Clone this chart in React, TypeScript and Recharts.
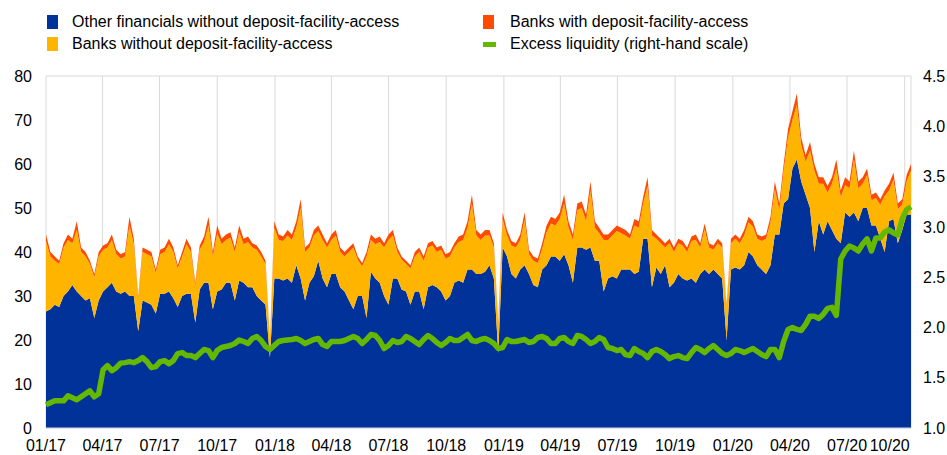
import React from "react";
import { ComposedChart, Area, Line, XAxis, YAxis, CartesianGrid } from "recharts";

// weekly readings, first week of Jan 2017 to mid Oct 2020 (EUR bn / EUR tn)
const otherFinancials = [
  26.5, 27, 28, 27.5, 30, 31, 32.5, 31, 30, 29,
  29.5, 25, 29, 31, 32, 33, 31, 30.5, 31, 30,
  30, 22, 29, 28.5, 28, 26, 30.5, 30.5, 31, 29.5,
  27.5, 30, 30.5, 30.5, 24, 31.5, 33, 33, 27, 31,
  31.5, 33, 33, 29, 33.5, 33, 32, 32, 30, 29,
  28, 16, 34, 34, 33.5, 34, 33, 37, 34, 29,
  33, 34.5, 38, 34, 32, 35, 35, 32, 31, 29,
  27, 30, 30, 25, 35.5, 34, 33, 30, 28, 34,
  34, 31.5, 31, 28, 31, 31, 27, 32, 32.5, 32,
  31, 29, 30, 33, 33.5, 33, 36, 36, 35, 35,
  35.5, 37, 34, 17, 41, 39, 35, 34, 36, 37,
  35, 32.5, 32, 36, 37, 39, 39, 38, 39.5, 37,
  33, 41, 41, 40.5, 41, 38, 38, 31, 34, 34.5,
  34, 36, 36, 36, 35, 35.5, 43, 43, 32, 36.5,
  35, 37, 32, 33, 35, 34, 33.5, 34, 33, 35,
  36, 35, 36, 35, 34, 20, 36, 36.5, 36, 37,
  40, 39, 37, 36, 35, 37, 44, 44, 51, 52,
  59, 61, 56, 53, 50, 40, 47, 44, 47, 45,
  43, 42, 49, 48, 49, 47, 50, 50, 46, 46,
  43, 40, 47, 47.5, 42, 45, 48.5, 48.5,
];

const banksWithout = [
  16, 12, 10, 9.75, 11, 11.75, 9.5, 14, 10, 10,
  7.75, 9.25, 10, 9.5, 9, 9.75, 8.5, 8, 8, 16,
  11.75, 7.5, 11, 11, 11, 9.25, 9, 9.5, 10.75, 10.5,
  8.75, 9, 11.25, 9.5, 8.25, 9, 9.25, 13, 12, 13.25,
  10.25, 9.75, 10.25, 11, 11, 8.75, 10.25, 9, 10.5, 10,
  9.25, 3.75, 11.5, 8.75, 9, 9.75, 9.75, 8.5, 16, 11,
  8, 9.25, 6.75, 8.75, 9, 7.75, 8.75, 8, 8, 11,
  14, 8.25, 6.75, 14, 7.25, 7.75, 9.25, 11, 14.75, 9.75,
  6, 6.75, 6.25, 8.25, 8, 9, 11, 9, 9, 8,
  9.5, 9.5, 9, 8, 8.75, 9.75, 9.5, 15, 8.75, 7.75,
  8.25, 6.75, 7, 6.5, 6.5, 4.75, 6.5, 7, 6.75, 10.25,
  4.5, 5.5, 5.5, 4.75, 7.5, 7.5, 7, 9.5, 11.5, 8.5,
  9.75, 8.5, 9, 6.5, 13, 7.5, 6.25, 11.75, 8.75, 9.25,
  10.75, 8.25, 7.75, 7, 11, 10, 8, 12, 11.75, 6.5,
  7, 4, 10, 7, 7, 7.5, 6.5, 8.5, 9.75, 6,
  9.25, 6, 4.5, 7, 7, 7.5, 6, 6.5, 6, 6.75,
  6.75, 6.75, 6, 6.5, 8, 9.75, 10.25, 5.5, 7.5, 14,
  11, 12.5, 8.25, 7.5, 13, 18.5, 8.5, 11.5, 6.5, 10.5,
  16, 10.5, 6.25, 6.5, 12, 7.5, 5.5, 7.5, 5.75, 6.25,
  7.75, 12.75, 7, 9, 7.75, 5.75, 7.5, 10,
];

const banksWith = [
  1.5, 1, 1, 0.75, 1, 1.25, 1, 2, 1, 1,
  0.75, 0.75, 1, 1, 1, 1.25, 1, 1, 1, 2,
  1.25, 0.5, 1, 1, 1, 0.75, 1, 1, 1.25, 1,
  0.75, 1, 1.25, 1, 0.75, 1, 1.25, 2, 1, 1.75,
  1.25, 1.25, 1.25, 1, 1.5, 1.25, 1.25, 1, 1, 1,
  0.75, 0.25, 1.5, 1.25, 1, 1.25, 1.25, 1.5, 2, 1,
  1, 1.25, 1.25, 1.25, 1, 1.25, 1.25, 1, 1, 1,
  1, 0.75, 0.75, 1, 1.25, 1.25, 1.25, 1, 1.25, 1.25,
  1, 0.75, 0.75, 0.75, 1, 1, 1, 1, 1, 1,
  1, 1, 1, 1, 1.25, 1.25, 1.5, 2, 1.25, 1.25,
  1.25, 1.25, 1, 0.5, 1.5, 1.25, 1, 1, 1.25, 1.75,
  1, 1, 1, 1.25, 1.5, 1.5, 1.5, 1.5, 2, 1.5,
  1.25, 1.5, 1.5, 1.5, 2, 1.5, 1.25, 1.25, 1.25, 1.25,
  1.25, 1.25, 1.25, 1, 1.5, 1.5, 1.5, 2, 1.25, 1,
  1, 1, 1, 1, 1, 1, 1, 1, 1.25, 1,
  1.25, 1, 1, 1, 1, 0.5, 1, 1, 1, 1.25,
  1.25, 1.25, 1, 1, 1, 1.25, 1.75, 1.5, 1.5, 2,
  2, 2.5, 1.75, 1.5, 2, 1.5, 1.5, 1.5, 1.5, 1.5,
  2, 1.5, 1.75, 1.5, 2, 1.5, 1.5, 1.5, 1.25, 1.25,
  1.25, 1.25, 1.5, 1.5, 1.25, 1.25, 1.5, 1.5,
];

const excessLiquidity = [
  1.23, 1.25, 1.27, 1.27, 1.27, 1.32, 1.3, 1.28, 1.31, 1.34,
  1.37, 1.31, 1.34, 1.58, 1.62, 1.57, 1.6, 1.645, 1.65, 1.66,
  1.65, 1.67, 1.7, 1.66, 1.6, 1.61, 1.66, 1.67, 1.64, 1.67,
  1.74, 1.75, 1.72, 1.72, 1.7, 1.74, 1.78, 1.77, 1.7, 1.77,
  1.8, 1.81, 1.82, 1.84, 1.875, 1.86, 1.84, 1.89, 1.91, 1.87,
  1.81, 1.78, 1.82, 1.86, 1.87, 1.875, 1.88, 1.89, 1.87, 1.84,
  1.86, 1.88, 1.89, 1.83, 1.81, 1.86, 1.86, 1.86, 1.87, 1.89,
  1.91, 1.89, 1.84, 1.88, 1.93, 1.92, 1.87, 1.79, 1.82, 1.87,
  1.85, 1.86, 1.91, 1.89, 1.86, 1.83, 1.88, 1.92, 1.89, 1.85,
  1.82, 1.85, 1.89, 1.87, 1.87, 1.9, 1.93, 1.87, 1.86, 1.88,
  1.89, 1.87, 1.84, 1.79, 1.8, 1.88, 1.86, 1.86, 1.87, 1.88,
  1.85, 1.86, 1.9, 1.91, 1.89, 1.84, 1.84, 1.89, 1.9, 1.86,
  1.84, 1.92, 1.91, 1.88, 1.84, 1.86, 1.9, 1.88, 1.8, 1.79,
  1.77, 1.78, 1.73, 1.72, 1.79, 1.76, 1.74, 1.7, 1.76, 1.78,
  1.76, 1.73, 1.69, 1.71, 1.72, 1.7, 1.69, 1.75, 1.8, 1.78,
  1.75, 1.79, 1.82, 1.78, 1.74, 1.72, 1.74, 1.78, 1.77, 1.75,
  1.77, 1.79, 1.76, 1.73, 1.71, 1.78, 1.78, 1.7, 1.86, 1.98,
  2.0, 1.98, 1.97, 2.03, 2.11, 2.11, 2.09, 2.13, 2.19, 2.2,
  2.12, 2.68, 2.76, 2.81, 2.79, 2.76, 2.83, 2.88, 2.76, 2.89,
  2.89, 2.95, 2.97, 2.94, 2.92, 3.08, 3.17, 3.2,
];

const quarterLabels = [
  "01/17", "04/17", "07/17", "10/17", "01/18", "04/18", "07/18", "10/18",
  "01/19", "04/19", "07/19", "10/19", "01/20", "04/20", "07/20", "10/20",
];

const leftTicks = [0, 10, 20, 30, 40, 50, 60, 70, 80];
const rightTicks = [1, 1.5, 2, 2.5, 3, 3.5, 4, 4.5];

const DAY = 86400000;
const START = Date.UTC(2017, 0, 1);
const quarterDays = quarterLabels.map((l) => {
  const [m, y] = l.split("/");
  return Math.round((Date.UTC(2000 + Number(y), Number(m) - 1, 1) - START) / DAY);
});

const data = otherFinancials.map((v, i) => ({
  day: i * 7,
  other: v,
  without: banksWithout[i],
  with: banksWith[i],
  liquidity: excessLiquidity[i],
}));

const FONT = "'Liberation Sans', Arial, sans-serif";
const BLUE = "#003299";
const YELLOW = "#ffb400";
const ORANGE = "#ff4b00";
const GREEN = "#65b800";

const XTick = (props: any) => {
  const { x, y, payload } = props;
  const idx = quarterDays.indexOf(payload.value);
  const last = idx === quarterDays.length - 1;
  return (
    <text x={last ? x - 15 : x} y={y} dy="0.71em" textAnchor="middle" fill="#000" fontSize={16} fontFamily={FONT}>
      {quarterLabels[idx]}
    </text>
  );
};

const legendText: React.CSSProperties = {
  position: "absolute",
  fontSize: 16,
  lineHeight: "18px",
  color: "#000",
  whiteSpace: "nowrap",
};

export default function App() {
  return (
    <div style={{ position: "absolute", left: 0, top: 0, width: 947, height: 455, background: "#fff", fontFamily: FONT }}>
      <div style={{ position: "absolute", left: 47, top: 15, width: 11, height: 14, background: BLUE }} />
      <div style={{ ...legendText, left: 72, top: 13 }}>Other financials without deposit-facility-access</div>
      <div style={{ position: "absolute", left: 483, top: 15, width: 11, height: 14, background: ORANGE }} />
      <div style={{ ...legendText, left: 510, top: 13 }}>Banks with deposit-facility-access</div>
      <div style={{ position: "absolute", left: 47, top: 37, width: 11, height: 14, background: YELLOW }} />
      <div style={{ ...legendText, left: 72, top: 35 }}>Banks without deposit-facility-access</div>
      <div style={{ position: "absolute", left: 483, top: 42, width: 13, height: 5, background: GREEN }} />
      <div style={{ ...legendText, left: 510, top: 35 }}>Excess liquidity (right-hand scale)</div>

      <ComposedChart width={947} height={455} data={data} margin={{ top: 76, right: 0, bottom: 0, left: 0 }}>
        <CartesianGrid stroke="#d9d9d9" />
        <XAxis
          dataKey="day"
          type="number"
          domain={[0, 1379]}
          ticks={quarterDays}
          interval={0}
          height={27}
          tickLine={false}
          tickMargin={6}
          axisLine={{ stroke: "#d9d9d9" }}
          tick={<XTick />}
        />
        <YAxis
          yAxisId="left"
          domain={[0, 80]}
          ticks={leftTicks}
          width={46}
          tickLine={false}
          axisLine={false}
          tickMargin={8}
          tick={{ fill: "#000", fontSize: 16, fontFamily: FONT }}
        />
        <YAxis
          yAxisId="right"
          orientation="right"
          domain={[1, 4.5]}
          ticks={rightTicks}
          width={36}
          tickLine={false}
          axisLine={false}
          tickMargin={6}
          tickFormatter={(v: number) => v.toFixed(1)}
          tick={{ fill: "#000", fontSize: 16, fontFamily: FONT, textAnchor: "start" }}
        />
        <Area yAxisId="left" type="linear" dataKey="other" stackId="a" stroke="none" fill={BLUE} fillOpacity={1} isAnimationActive={false} />
        <Area yAxisId="left" type="linear" dataKey="without" stackId="a" stroke="none" fill={YELLOW} fillOpacity={1} isAnimationActive={false} />
        <Area yAxisId="left" type="linear" dataKey="with" stackId="a" stroke="none" fill={ORANGE} fillOpacity={1} isAnimationActive={false} />
        <Line
          yAxisId="right"
          type="linear"
          dataKey="liquidity"
          stroke={GREEN}
          strokeWidth={5.5}
          strokeLinejoin="round"
          dot={false}
          activeDot={false}
          isAnimationActive={false}
        />
      </ComposedChart>
    </div>
  );
}
